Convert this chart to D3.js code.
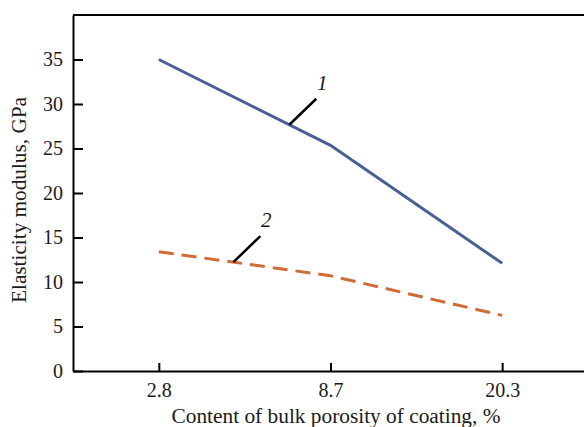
<html>
<head>
    <script src="https://d3js.org/d3.v7.min.js"></script>
    <style>
        body { margin: 0; background: white; }
        text { font-family: "Liberation Serif", "DejaVu Serif", serif; fill: #1a1a1a; }
        .axis text { font-size: 20px; }
        .axis path, .axis line { stroke: black; stroke-width: 2px; }
    </style>
</head>
<body>
<script>
    // data
    var categories = ["2.8", "8.7", "20.3"];
    var series1 = [35.0, 25.35, 12.1];
    var series2 = [13.4, 10.7, 6.25];
    var yTicks = [0, 5, 10, 15, 20, 25, 30, 35];
    var seriesNames = ["1", "2"];

    var width = 584, height = 427;
    var mLeft = 73, mTop = 15, mBottom = 371;

    var svg = d3.select("body").append("svg").attr("width", width).attr("height", height);

    var x = d3.scalePoint().domain(categories).range([mLeft, 588]).padding(0.5);
    var y = d3.scaleLinear().domain([0, 40]).range([mBottom, mTop]);

    // frame top line (no right border in the original)
    svg.append("line").attr("x1", mLeft).attr("x2", width).attr("y1", mTop).attr("y2", mTop)
        .attr("stroke", "black").attr("stroke-width", 2);

    svg.append("g").attr("class", "axis").attr("transform", "translate(0," + mBottom + ")")
        .call(d3.axisBottom(x).tickSizeInner(-8).tickSizeOuter(0).tickPadding(12));

    svg.append("g").attr("class", "axis").attr("transform", "translate(" + mLeft + ",0)")
        .call(d3.axisLeft(y).tickValues(yTicks).tickSizeInner(-10).tickSizeOuter(0).tickPadding(10));

    // axis titles
    svg.append("text").attr("x", 336).attr("y", 423).attr("text-anchor", "middle")
        .attr("textLength", 329).attr("lengthAdjust", "spacingAndGlyphs")
        .style("font-size", "20px").text("Content of bulk porosity of coating, %");
    svg.append("text").attr("transform", "translate(26,200) rotate(-90)").attr("text-anchor", "middle")
        .attr("textLength", 206).attr("lengthAdjust", "spacingAndGlyphs")
        .style("font-size", "20px").text("Elasticity modulus, GPa");

    var line = d3.line().x(function(d, i) { return x(categories[i]); }).y(function(d) { return y(d); });

    svg.append("path").datum(series1).attr("d", line).attr("fill", "none")
        .attr("stroke", "#4a5f95").attr("stroke-width", 3);
    svg.append("path").datum(series2).attr("d", line).attr("fill", "none")
        .attr("stroke", "#d06b35").attr("stroke-width", 3).attr("stroke-dasharray", "15,8");

    // leader lines with curve numbers
    var leaders = [{ s: series1, t: 0.76, name: seriesNames[0] }, { s: series2, t: 0.434, name: seriesNames[1] }];
    leaders.forEach(function(l) {
        var x0 = x(categories[0]), x1 = x(categories[1]);
        var px = x0 + (x1 - x0) * l.t;
        var py = y(l.s[0]) + (y(l.s[1]) - y(l.s[0])) * l.t;
        svg.append("line").attr("x1", px).attr("y1", py).attr("x2", px + 27).attr("y2", py - 26)
            .attr("stroke", "black").attr("stroke-width", 2.5);
        svg.append("text").attr("x", px + 33).attr("y", py - 35).attr("text-anchor", "middle")
            .style("font-size", "21px").style("font-style", "italic").text(l.name);
    });
</script>
</body>
</html>
